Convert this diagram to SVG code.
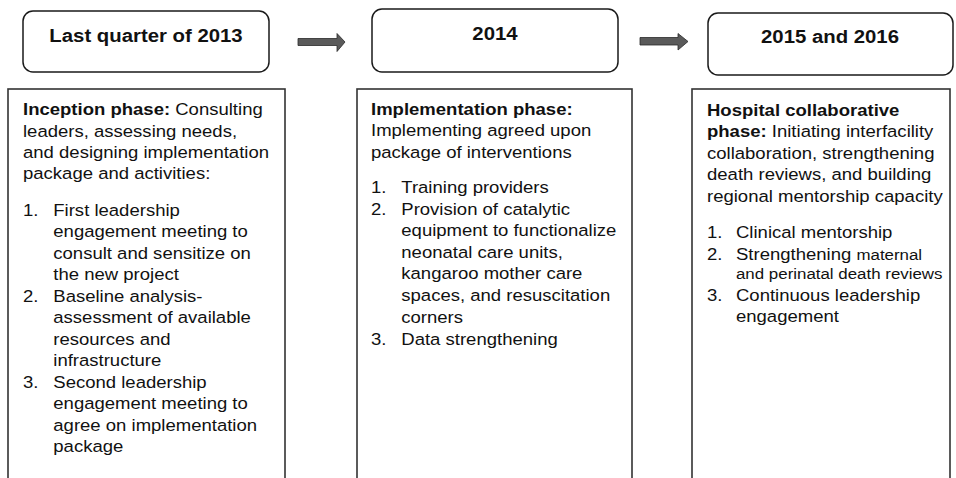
<svg xmlns="http://www.w3.org/2000/svg" width="956" height="478" viewBox="0 0 956 478">
<style>
.hdr{fill:#fff;stroke:#1a1a1a;stroke-width:1.5}
.panel{fill:#fff;stroke:#333;stroke-width:1.6}
.ht{font-family:"Liberation Sans",Arial,sans-serif;font-weight:bold;font-size:18.5px;fill:#111;text-anchor:middle}
.bt{font-family:"Liberation Sans",Arial,sans-serif;font-size:17px;fill:#111}
.sm{font-size:15.5px}
.b{font-weight:bold}
.arr{fill:#5a5a5a;stroke:#2a2a2a;stroke-width:0.8}
</style>
<rect width="956" height="478" fill="#fff"/>
<g id="connectors">
<path class="arr" d="M298,38.5 H337 V33.5 L345,42 L337,51.5 V45.5 H298 Z"/>
<path class="arr" d="M640,37.5 H678 V33.5 L688,41.5 L678,50 V45 H640 Z"/>
</g>
<g id="period1">
<rect class="hdr" x="23" y="11" width="246" height="61" rx="10"/>
<text class="ht" transform="translate(146,42) scale(1.1,1)" x="0" y="0">Last quarter of 2013</text>
</g>
<g id="period2">
<rect class="hdr" x="372" y="9" width="246" height="63" rx="10"/>
<text class="ht" transform="translate(495,40) scale(1.1,1)" x="0" y="0">2014</text>
</g>
<g id="period3">
<rect class="hdr" x="708" y="13" width="245" height="62" rx="10"/>
<text class="ht" transform="translate(830,43) scale(1.1,1)" x="0" y="0">2015 and 2016</text>
</g>
<g id="phase1">
<rect class="panel" x="8" y="89" width="277" height="400"/>
<g transform="translate(23,0) scale(1.09,1)">
<text class="bt" y="115.5"><tspan class="b">Inception phase:</tspan> Consulting</text>
<text class="bt" y="137">leaders, assessing needs,</text>
<text class="bt" y="158">and designing implementation</text>
<text class="bt" y="179">package and activities:</text>
<text class="bt" y="216">1.</text>
<text class="bt" x="27.8" y="216">First leadership</text>
<text class="bt" x="27.8" y="237.5">engagement meeting to</text>
<text class="bt" x="27.8" y="259">consult and sensitize on</text>
<text class="bt" x="27.8" y="280.5">the new project</text>
<text class="bt" y="302">2.</text>
<text class="bt" x="27.8" y="302">Baseline analysis-</text>
<text class="bt" x="27.8" y="323.5">assessment of available</text>
<text class="bt" x="27.8" y="345">resources and</text>
<text class="bt" x="27.8" y="366.5">infrastructure</text>
<text class="bt" y="388">3.</text>
<text class="bt" x="27.8" y="388">Second leadership</text>
<text class="bt" x="27.8" y="409.5">engagement meeting to</text>
<text class="bt" x="27.8" y="431">agree on implementation</text>
<text class="bt" x="27.8" y="452">package</text>
</g>
</g>
<g id="phase2">
<rect class="panel" x="357" y="89" width="275" height="400"/>
<g transform="translate(371,0) scale(1.09,1)">
<text class="bt b" y="115">Implementation phase:</text>
<text class="bt" y="136.5">Implementing agreed upon</text>
<text class="bt" y="158">package of interventions</text>
<text class="bt" y="193.5">1.</text>
<text class="bt" x="27.8" y="193.5">Training providers</text>
<text class="bt" y="215">2.</text>
<text class="bt" x="27.8" y="215">Provision of catalytic</text>
<text class="bt" x="27.8" y="236.5">equipment to functionalize</text>
<text class="bt" x="27.8" y="258">neonatal care units,</text>
<text class="bt" x="27.8" y="279.5">kangaroo mother care</text>
<text class="bt" x="27.8" y="301">spaces, and resuscitation</text>
<text class="bt" x="27.8" y="323">corners</text>
<text class="bt" y="345">3.</text>
<text class="bt" x="27.8" y="345">Data strengthening</text>
</g>
</g>
<g id="phase3">
<rect class="panel" x="692" y="89" width="258" height="400"/>
<g transform="translate(707,0) scale(1.09,1)">
<text class="bt b" y="116">Hospital collaborative</text>
<text class="bt" y="137.5"><tspan class="b">phase:</tspan> Initiating interfacility</text>
<text class="bt" y="159">collaboration, strengthening</text>
<text class="bt" y="180.5">death reviews, and building</text>
<text class="bt" y="202">regional mentorship capacity</text>
<text class="bt" y="238">1.</text>
<text class="bt" x="26.6" y="238">Clinical mentorship</text>
<text class="bt" y="260">2.</text>
<text class="bt" x="26.6" y="260">Strengthening <tspan class="sm">maternal</tspan></text>
<text class="bt sm" x="26.6" y="279.5">and perinatal death reviews</text>
<text class="bt" y="301">3.</text>
<text class="bt" x="26.6" y="301">Continuous leadership</text>
<text class="bt" x="26.6" y="322">engagement</text>
</g>
</g>
</svg>
